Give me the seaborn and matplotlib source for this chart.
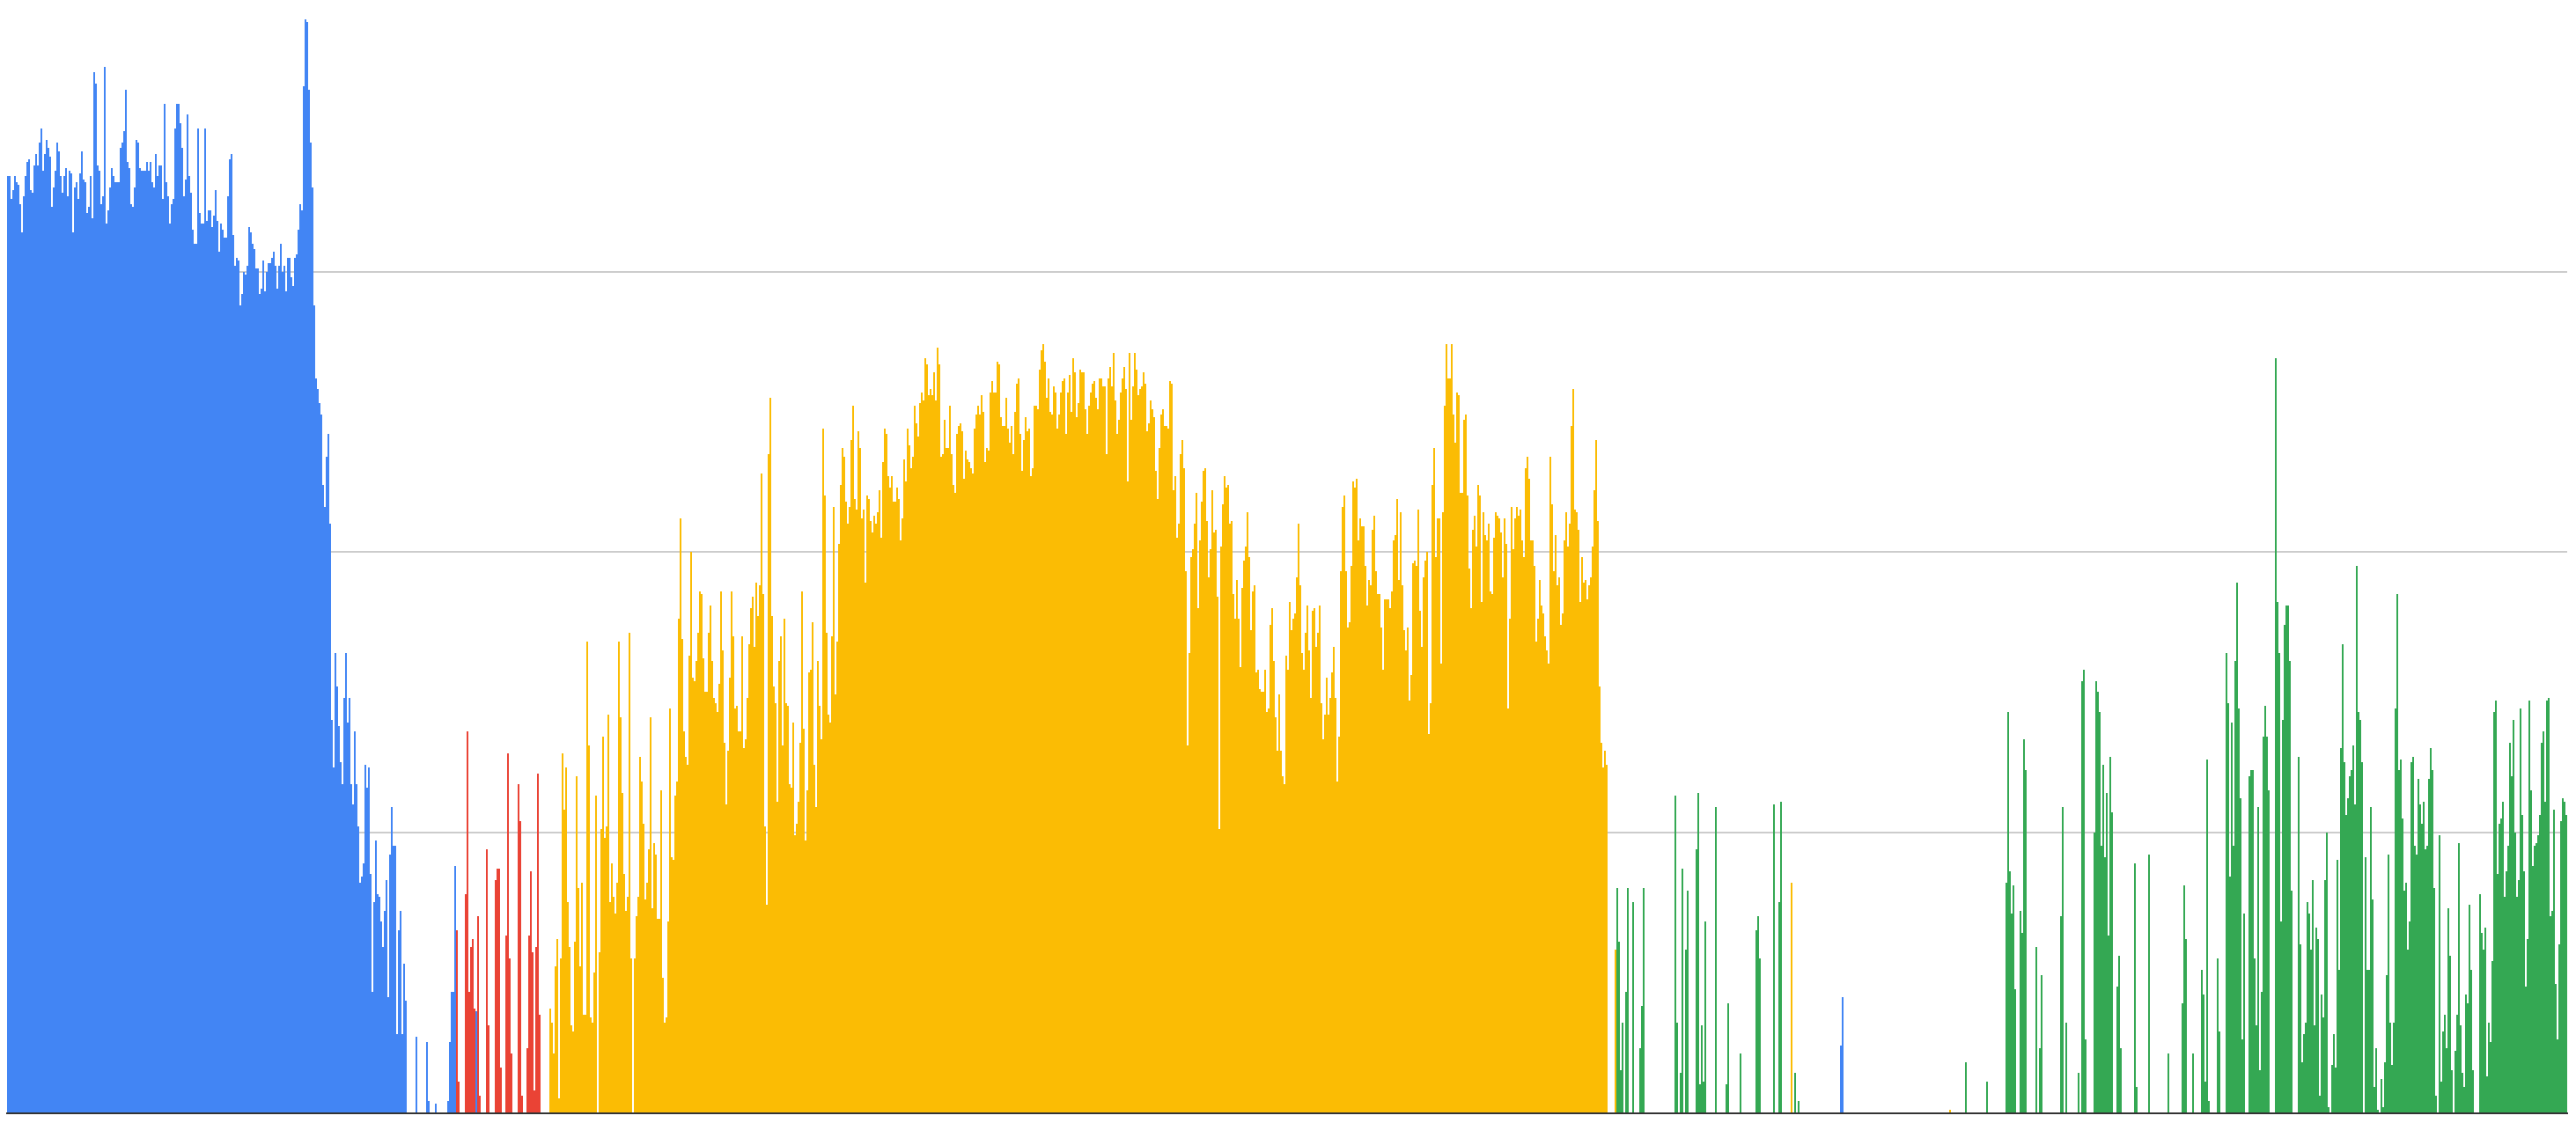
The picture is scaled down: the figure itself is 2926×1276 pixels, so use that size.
import pandas as pd
import seaborn as sns
import matplotlib.pyplot as plt

# valores (100 = primeira linha de grade)
blue_lead = [334, 334, 326, 329, 334, 332, 331, 324, 314, 327, 334, 339, 340, 329, 328, 338, 342, 338, 346, 351,
             336, 342, 347, 344, 341, 323, 330, 336, 346, 343, 334, 328, 334, 337, 327, 336, 335, 314, 330, 332,
             326, 335, 343, 333, 332, 321, 323, 334, 319, 371, 367, 338, 336, 324, 327, 373, 317, 322, 330, 337,
             334, 332, 332, 332, 344, 346, 350, 365, 339, 337, 324, 323, 330, 347, 346, 337, 336, 336, 336, 339,
             336, 339, 332, 330, 342, 334, 338, 338, 326, 360, 332, 327, 317, 324, 326, 351, 360, 360, 353, 344,
             327, 333, 356, 334, 328, 315, 310, 310, 351, 321, 317, 317, 351, 318, 322, 322, 316, 320, 329, 318,
             307, 317, 315, 312, 312, 327, 340, 342, 313, 302, 305, 304, 288, 292, 300, 299, 302, 316, 314, 310,
             308, 301, 301, 292, 294, 304, 293, 300, 303, 303, 305, 307, 302, 294, 302, 310, 300, 302, 293, 305,
             305, 298, 295, 305, 306, 315, 324, 322, 366, 390, 389, 365, 346, 330, 288, 262, 258, 253, 249, 224,
             216, 234, 242, 210, 140, 123, 164, 152, 138, 125, 117, 148, 164, 139, 148, 117, 110, 136, 117, 102,
             82, 84, 89, 124, 116, 123, 85, 43, 75, 97, 78, 77, 68, 59, 72, 83, 41, 92, 109, 95,
             95, 28, 65, 72, 28, 53, 40]
blue_sparse = [0, 0, 0, 0, 0, 27, 0, 0, 0, 0, 0, 25, 4, 0, 0, 0, 3, 0, 0, 0, 0, 0, 0, 4, 25, 43, 43, 88]
red_a = [65, 11, 0, 0, 0, 78, 136, 43, 59, 62, 37]
blue_inner = [36]
red_b = [70, 6, 0, 0, 0, 94, 31, 0, 0, 0, 83, 87, 87, 16, 0, 0, 63, 128, 55, 21, 0, 0, 0, 117, 104, 6,
         0, 0, 23, 63, 86, 57, 8, 59, 121, 35, 0, 0, 0, 0, 0]
yellow_main = [37, 32, 21, 52, 62, 5, 55, 128, 108, 123, 75, 59, 31, 29, 61, 120, 80, 52, 82, 35,
               35, 168, 131, 34, 32, 50, 113, 0, 57, 101, 134, 98, 102, 142, 75, 89, 77, 71, 82, 168,
               141, 114, 85, 72, 77, 171, 55, 0, 55, 70, 77, 127, 118, 103, 76, 82, 94, 141, 73, 96,
               92, 69, 69, 115, 48, 32, 34, 68, 144, 91, 90, 113, 118, 176, 212, 169, 136, 127, 124, 163,
               200, 155, 154, 161, 171, 186, 185, 162, 150, 150, 171, 181, 161, 148, 146, 143, 153, 186, 165, 132,
               110, 129, 155, 186, 170, 144, 145, 136, 136, 170, 130, 133, 148, 167, 180, 184, 166, 189, 177, 188,
               228, 185, 102, 74, 235, 255, 177, 152, 146, 111, 161, 170, 131, 176, 146, 145, 117, 116, 139, 99,
               103, 111, 132, 186, 137, 97, 115, 157, 158, 175, 124, 109, 161, 145, 133, 244, 220, 171, 142, 139,
               170, 216, 149, 168, 203, 224, 237, 234, 218, 210, 216, 240, 252, 219, 215, 243, 237, 212, 215, 189,
               220, 219, 211, 207, 213, 210, 214, 222, 205, 232, 244, 242, 227, 223, 227, 218, 218, 223, 219, 204,
               212, 233, 225, 244, 238, 230, 234, 252, 246, 241, 253, 257, 254, 269, 267, 256, 258, 256, 264, 254,
               273, 267, 234, 235, 247, 237, 237, 252, 235, 224, 221, 242, 245, 246, 243, 226, 236, 233, 232, 230,
               228, 244, 249, 252, 249, 256, 250, 232, 237, 236, 257, 261, 257, 257, 268, 267, 248, 245, 245, 255,
               244, 239, 245, 235, 250, 260, 262, 242, 229, 240, 248, 243, 244, 227, 230, 252, 252, 251, 265, 272,
               274, 268, 255, 262, 250, 249, 259, 257, 244, 249, 257, 261, 262, 242, 257, 263, 250, 269, 264, 248,
               253, 265, 264, 264, 251, 242, 252, 257, 260, 261, 255, 251, 262, 262, 259, 259, 235, 262, 266, 259,
               271, 254, 242, 247, 257, 262, 266, 258, 225, 271, 247, 259, 271, 265, 256, 258, 259, 264, 260, 243,
               246, 254, 251, 248, 229, 219, 237, 249, 251, 245, 245, 244, 261, 260, 222, 227, 205, 210, 235, 240,
               230, 193, 131, 164, 198, 201, 210, 221, 180, 204, 218, 229, 230, 211, 191, 201, 222, 207, 208, 184,
               101, 202, 217, 227, 223, 224, 210, 211, 185, 176, 190, 176, 159, 187, 197, 202, 214, 198, 172, 186,
               188, 157, 158, 151, 150, 150, 158, 143, 144, 174, 180, 161, 141, 129, 149, 129, 120, 117, 163, 158,
               182, 172, 176, 178, 191, 210, 188, 164, 158, 171, 181, 165, 148, 179, 180, 166, 171, 181, 146, 133,
               142, 155, 142, 148, 157, 166, 148, 118, 134, 193, 216, 220, 193, 173, 175, 195, 225, 223, 226, 204,
               212, 209, 209, 195, 181, 190, 188, 208, 213, 193, 185, 185, 173, 158, 183, 183, 183, 180, 186, 204,
               206, 219, 190, 214, 188, 172, 165, 173, 147, 156, 196, 197, 195, 215, 179, 166, 191, 197, 200, 135,
               146, 224, 237, 198, 212, 212, 160, 214, 252, 274, 262, 262, 274, 249, 239, 257, 256, 221, 221, 247,
               249, 220, 194, 180, 208, 213, 202, 224, 220, 182, 214, 206, 204, 210, 186, 185, 205, 214, 213, 212,
               207, 191, 212, 203, 144, 176, 216, 201, 212, 216, 213, 215, 204, 198, 230, 234, 226, 204, 204, 195,
               168, 176, 190, 181, 178, 170, 165, 160, 234, 217, 193, 206, 188, 191, 174, 178, 204, 214, 202, 210,
               245, 258, 215, 214, 208, 182, 198, 189, 190, 183, 188, 191, 202, 222, 240, 211, 152, 132, 123, 129,
               124, 0, 0, 0, 0]
yellow_b = [58]
green_a = [80, 61, 15, 32, 0, 43, 80, 0, 0, 75, 0, 0, 0, 23, 38, 80] + [0] * 17 + \
          [113, 32, 0, 14, 87, 0, 58, 79, 0, 0, 0, 0, 94, 114, 10, 31, 11, 68, 0, 0, 0, 0, 0, 109,
           0, 0, 0, 0, 0, 10, 39, 0, 0, 0, 0, 0, 0, 21] + [0] * 8 + \
          [65, 70, 55, 0, 0, 0, 0, 0, 0, 0, 110, 0, 0, 75, 111, 0, 0, 0, 0, 0]
yellow_c = [82]
green_b = [0, 14, 0, 4] + [0] * 23
blue_c = [24, 41]
blank_a = [0] * 60
yellow_d = [1]
green_c = [0] * 8 + [18] + [0] * 11 + [11] + [0] * 10 + \
          [82, 143, 86, 71, 81, 44, 0, 0, 72, 64, 133, 122, 0, 0, 0, 0, 0, 59, 0, 23, 49] + [0] * 10 + \
          [70, 109, 0, 32, 0, 0, 0, 0, 0, 0, 14, 0, 154, 158, 26, 0, 0, 0, 0, 100,
           154, 150, 143, 95, 124, 91, 114, 63, 127, 107, 0, 0, 45, 56, 23, 0, 0, 0, 0, 0,
           0, 0, 89, 9, 0, 0, 0, 0, 0, 0, 92] + [0] * 10 + \
          [21, 0, 0, 0, 0, 0, 0, 0, 39, 81, 62, 0, 0, 0, 21, 0, 0, 0, 0, 51,
           42, 11, 126, 4, 0, 0, 0, 0, 55, 29, 0, 0, 0, 164, 146, 84, 139, 95, 161, 189,
           144, 112, 26, 71, 0, 0, 120, 122, 122, 55, 31, 109, 15, 43, 134, 145, 134, 115, 0, 0,
           0, 269, 182, 164, 68, 140, 174, 181, 181, 161, 79, 0, 0, 0, 127, 60, 18, 28, 32, 75,
           71, 58, 83, 31, 66, 62, 6, 42, 34, 83, 100, 2, 0, 17, 28, 16, 90, 51, 130, 167,
           125, 106, 112, 120, 122, 131, 110, 195, 143, 140, 125, 0, 91, 51, 51, 109, 76, 9, 23, 1,
           0, 12, 2, 18, 49, 92, 32, 17, 32, 144, 185, 122, 126, 105, 79, 82, 58, 68, 125, 127,
           95, 92, 119, 110, 103, 111, 94, 95, 119, 130, 122, 80, 6, 0, 99, 11, 29, 35, 23, 73,
           56, 15, 0, 22, 35, 96, 31, 14, 9, 42, 39, 74, 51, 15, 0, 0, 0, 78, 64, 58,
           66, 13, 32, 25, 54, 143, 147, 85, 103, 105, 111, 77, 86, 95, 132, 120, 140, 100, 77, 83,
           144, 106, 86, 45, 62, 147, 115, 88, 95, 96, 99, 106, 132, 136, 111, 147, 148, 70, 72, 108,
           46, 26, 60, 104, 112, 111, 106]

series_colors = {"A": "#4285F4", "B": "#EA4335", "C": "#FBBC04", "D": "#34A853"}
sections = [("A", blue_lead), ("A", blue_sparse), ("B", red_a), ("A", blue_inner), ("B", red_b),
            ("C", yellow_main), ("C", yellow_b), ("D", green_a), ("C", yellow_c), ("D", green_b),
            ("A", blue_c), ("D", blank_a), ("C", yellow_d), ("D", green_c)]

rows = []
for name, values in sections:
    for v in values:
        rows.append({"bin": len(rows), "value": v, "series": name})
df = pd.DataFrame(rows)

sns.set_style("white")
fig = plt.figure(figsize=(29.26, 12.76), dpi=100)
# cada barra ocupa 2 px exatos, como no original
ax = fig.add_axes([8 / 2926, 1 - 1264 / 1276, 2 * len(df) / 2926, 1264 / 1276])

sns.barplot(data=df, x="bin", y="value", hue="series", palette=series_colors, order=list(df["bin"]),
            dodge=False, width=1.0, saturation=1, linewidth=0, legend=False, ax=ax)
for bar in ax.patches:
    bar.set_antialiased(False)

ax.set_xlim(-0.5, len(df) - 0.5)
ax.set_ylim(0, 396.9)
ax.set_yticks([100, 200, 300])
ax.set_axisbelow(True)
ax.yaxis.grid(True, color="#cccccc", linewidth=1.44)
ax.xaxis.grid(False)
ax.set_xticks([])
ax.set_yticklabels([])
ax.tick_params(length=0)
ax.set_xlabel("")
ax.set_ylabel("")
sns.despine(ax=ax, left=True, top=True, right=True)
ax.spines["bottom"].set_color("#333333")
ax.spines["bottom"].set_linewidth(1.44)
ax.spines["bottom"].set_position(("outward", 0.72))
ax.patch.set_alpha(0)

fig.savefig("out.png", dpi=100)
